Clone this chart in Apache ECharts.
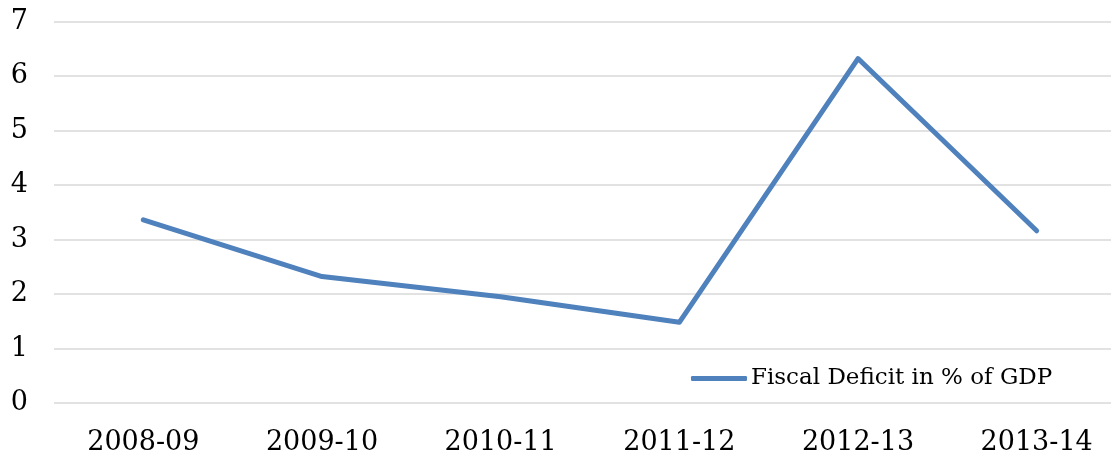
<!DOCTYPE html>
<html>
<head>
<meta charset="utf-8">
<script src="https://cdn.jsdelivr.net/npm/echarts@6/dist/echarts.min.js"></script>
<style>
  html, body { margin: 0; padding: 0; background: #fff; }
  #chart { width: 1111px; height: 450px; }
</style>
</head>
<body>
<div id="chart"></div>
<script>
// Fiscal years on the category axis
const years = ['2008-09', '2009-10', '2010-11', '2011-12', '2012-13', '2013-14'];
// Fiscal deficit as a share of GDP (%)
const deficit = [3.36, 2.32, 1.95, 1.48, 6.32, 3.16];
const seriesName = 'Fiscal Deficit in % of GDP';

const FONT = '"DejaVu Serif", "Liberation Serif", serif';
const chart = echarts.init(document.getElementById('chart'), null, { renderer: 'canvas' });

chart.setOption({
  backgroundColor: '#ffffff',
  animation: false,
  // plot area runs a little past the right and bottom edges of the canvas
  grid: {
    left: 54, width: 1072, top: 21.5, height: 381.5,
    containLabel: false,
    outerBoundsMode: 'none'
  },
  legend: {
    data: [{ name: seriesName, icon: 'roundRect' }],
    left: 686,
    top: 362,
    itemWidth: 56,
    itemHeight: 5,
    itemGap: 10,
    itemStyle: { color: '#4f81bd', borderWidth: 0 },
    lineStyle: { width: 0 },
    textStyle: { fontFamily: FONT, fontSize: 23, color: '#000', padding: [0, 0, 0, -1] }
  },
  xAxis: {
    type: 'category',
    data: years,
    boundaryGap: true,
    axisLine: { show: false },
    axisTick: { show: false },
    axisLabel: { fontFamily: FONT, fontSize: 27, color: '#000', margin: 26 }
  },
  yAxis: {
    type: 'value',
    min: 0,
    max: 7,
    interval: 1,
    axisLine: { show: false },
    axisTick: { show: false },
    axisLabel: { fontFamily: FONT, fontSize: 27, color: '#000', margin: 26 },
    splitLine: { lineStyle: { color: '#d9d9d9', width: 1.5 } }
  },
  series: [{
    name: seriesName,
    type: 'line',
    data: deficit,
    symbol: 'none',
    color: '#4f81bd',
    lineStyle: { color: '#4f81bd', width: 5, cap: 'round', join: 'round' }
  }]
});
</script>
</body>
</html>
